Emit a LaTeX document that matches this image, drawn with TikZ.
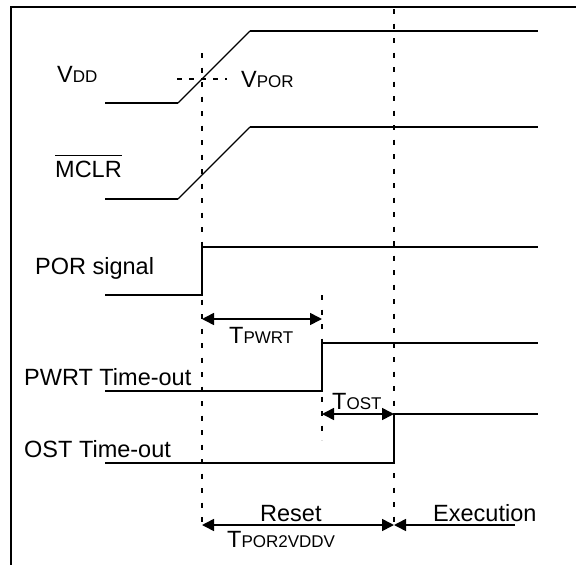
\documentclass[tikz,border=0pt]{standalone}
\usepackage{fontspec}
\setmainfont{Liberation Sans}
\usetikzlibrary{arrows.meta}
\newcommand{\sml}[1]{{\fontsize{17}{18}\selectfont #1}}
\begin{document}
\begin{tikzpicture}[x=1pt,y=-1pt,
  sig/.style={line width=1.6pt},
  ramp/.style={line width=1.1pt},
  frameline/.style={line width=2.3pt},
  dsh/.style={line width=2pt,dash pattern=on 5pt off 9.5pt},
  dimarr/.style={line width=1.6pt,{Triangle[length=12pt,width=12pt]}-{Triangle[length=12pt,width=12pt]}},
  onearr/.style={line width=1.6pt,-{Triangle[length=12pt,width=12pt]}},
  lbl/.style={anchor=base west,inner sep=0pt,font=\fontsize{23.5}{24}\selectfont}]
\path[use as bounding box] (0,0) rectangle (576,565);
% frame
\coordinate (f0) at (11,565); \coordinate (f1) at (11,7); \coordinate (f2) at (576,7);
\draw[frameline] (f0) -- (f1) -- (f2);
% labels
\node[lbl] (lvdd) at (57,82) {V\sml{DD}};
\node[lbl] (lvpor) at (241,87) {V\sml{POR}};
\node[lbl] (lmclr) at (55,177) {MCLR};
\draw[line width=1.4pt] ([yshift=5pt]lmclr.north west) -- ([yshift=5pt]lmclr.north east);
\node[lbl] (lpor) at (35,274) {POR signal};
\node[lbl] (ltpwrt) at (229,343) {T\sml{PWRT}};
\node[lbl] (lpwrt) at (24,385) {PWRT Time-out};
\node[lbl] (ltost) at (332,409) {T\sml{OST}};
\node[lbl] (lost) at (24,457) {OST Time-out};
\node[lbl] (lreset) at (260,521) {Reset};
\node[lbl] (ltpor) at (227,547) {T\sml{POR2VDDV}};
\node[lbl] (lexec) at (433,521) {Execution};
% coordinates
\coordinate (v0) at (105,103); \coordinate (v1) at (178,103); \coordinate (v2) at (250,31); \coordinate (v3) at (538,31);
\coordinate (p0) at (177,79); \coordinate (p1) at (227,79);
\coordinate (m0) at (105,199); \coordinate (m1) at (178,199); \coordinate (m2) at (250,127); \coordinate (m3) at (538,127);
\coordinate (r0) at (105,295); \coordinate (r1) at (202,295); \coordinate (r2) at (202,247); \coordinate (r3) at (538,247);
\coordinate (w0) at (105,391); \coordinate (w1) at (322,391); \coordinate (w2) at (322,343); \coordinate (w3) at (538,343);
\coordinate (o0) at (105,463); \coordinate (o1) at (394,463); \coordinate (o2) at (394,414); \coordinate (o3) at (538,414);
\coordinate (d1a) at (202,53); \coordinate (d1b) at (202,528);
\coordinate (d2a) at (394,9); \coordinate (d2b) at (394,524);
\coordinate (d3a) at (322,295); \coordinate (d3b) at (322,440);
\coordinate (ta) at (202,319); \coordinate (tb) at (322,319);
\coordinate (ea) at (202,525); \coordinate (eb) at (394,525); \coordinate (ec) at (515,525);
% signals
\draw[sig] (v0) -- (v1); \draw[ramp] (v1) -- (v2); \draw[sig] (v2) -- (v3);
\draw[sig] (m0) -- (m1); \draw[ramp] (m1) -- (m2); \draw[sig] (m2) -- (m3);
\draw[sig] (r0) -- (r1) -- (r2) -- (r3);
\draw[sig] (w0) -- (w1) -- (w2) -- (w3);
\draw[sig] (o0) -- (o1) -- (o2) -- (o3);
% dashed
\draw[dsh,dash pattern=on 4.5pt off 7.5pt] (p0) -- (p1);
\draw[dsh] (d1a) -- (d1b);
\draw[dsh] (d2a) -- (d2b);
\draw[dsh] (d3a) -- (d3b);
% dimension arrows
\draw[dimarr] (ta) -- (tb);
\draw[dimarr] (w1 |- o2) -- (o2);
\draw[dimarr] (ea) -- (eb);
\draw[onearr] (ec) -- (eb);
\end{tikzpicture}
\end{document}
